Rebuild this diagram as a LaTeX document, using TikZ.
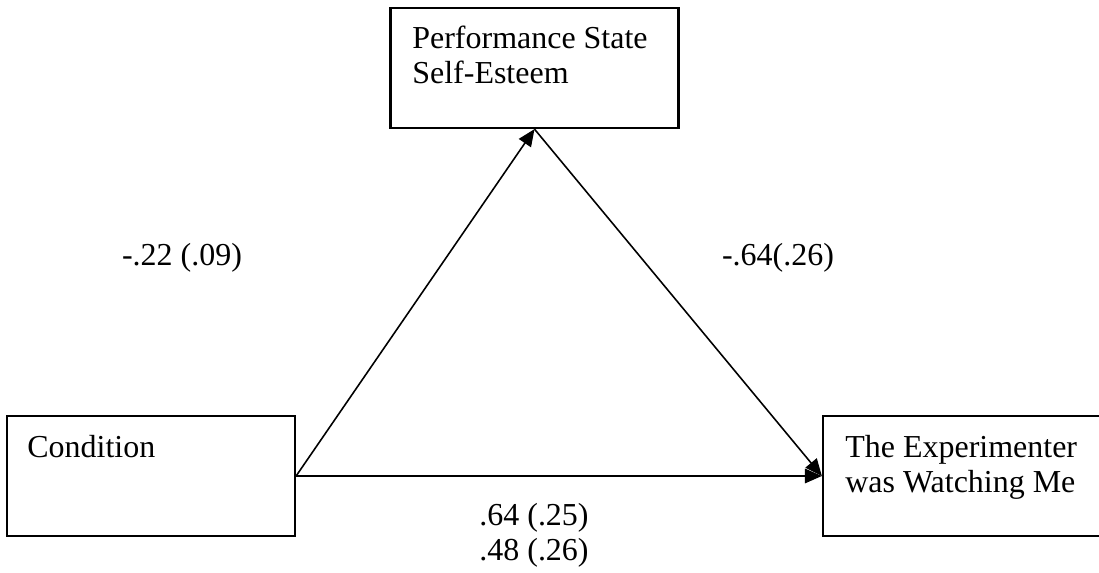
\documentclass[tikz,border=0pt]{standalone}
\usepackage{fontspec}
\setmainfont{Liberation Serif}
\usetikzlibrary{arrows.meta,positioning}
\tikzset{
  varbox/.style={draw=black,line width=1.3pt,minimum width=5.76cm,minimum height=2.4cm,inner sep=0pt},
  boxtext/.style={anchor=north west,inner sep=0pt,align=left,font=\fontsize{18.2}{20}\selectfont},
  coeflabel/.style={align=center,inner sep=0pt,font=\fontsize{18.2}{20}\selectfont},
  patharrow/.style={-{Triangle[length=3.4mm,width=2.9mm]},line width=0.9pt}
}

\begin{document}
\begin{tikzpicture}[x=0.02cm,y=-0.02cm]
  \useasboundingbox (0,0) rectangle (1099,573);
  % variables
  \node[varbox] (pse) at (534.5,68) {};
  \node[varbox] (cond) at (151,476) {};
  \node[varbox] (watch) at (967,476) {};
  \node[boxtext] (psetext) at (412,26) {Performance State\\Self-Esteem};
  \node[boxtext] (condtext) at (27,435) {Condition};
  \node[boxtext] (watchtext) at (845,435) {The Experimenter\\was Watching Me};
  % paths
  \draw[patharrow] (cond.east) -- (pse.south);
  \draw[patharrow] (pse.south) -- (watch.west);
  \draw[patharrow] (cond.east) -- (watch.west);
  % coefficients
  \node[coeflabel] (alabel) at (182,258) {-.22 (.09)};
  \node[coeflabel] (blabel) at (778,258) {-.64(.26)};
  \node[coeflabel] (clabel) at (534,535) {.64 (.25)\\.48 (.26)};
\end{tikzpicture}
\end{document}
